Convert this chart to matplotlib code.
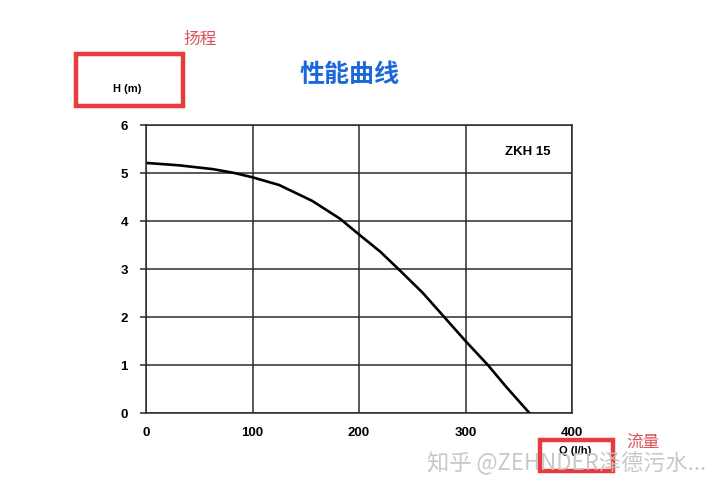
import matplotlib
matplotlib.use("Agg")
import matplotlib.pyplot as plt
from matplotlib.patches import Rectangle

plt.rcParams['font.family'] = ['Liberation Sans', 'Noto Sans CJK SC', 'DejaVu Sans']

# pump curve
flow = [0, 31, 63, 83, 100, 125, 156, 182, 200, 220, 237, 260, 280, 300, 321, 338, 360]
head = [5.21, 5.16, 5.08, 5.0, 4.91, 4.75, 4.42, 4.05, 3.72, 3.36, 3.0, 2.5, 2.0, 1.5, 1.0, 0.55, 0.0]

x_ticks = [0, 100, 200, 300, 400]
y_ticks = [0, 1, 2, 3, 4, 5, 6]

title = "性能曲线"
model = "ZKH 15"
x_label = "Q (l/h)"
y_label = "H (m)"
x_note = "流量"
y_note = "扬程"
watermark = "知乎 @ZEHNDER泽德污水..."

fig = plt.figure(figsize=(7.2, 4.92), dpi=100)
ax = fig.add_axes([146/720, 1-413/492, 426/720, 288/492])

grid_col = '#2b2b2b'
ax.plot(flow, head, color='black', linewidth=1.9, solid_joinstyle='round')
ax.set_xlim(0, 400)
ax.set_ylim(0, 6)
ax.set_xticks(x_ticks)
ax.set_yticks(y_ticks)
ax.grid(True, color=grid_col, linewidth=1.1)
for s in ax.spines.values():
    s.set_color(grid_col)
    s.set_linewidth(1.1)
ax.tick_params(axis='y', length=4, width=1.1, color=grid_col, pad=9, labelsize=9.5)
ax.tick_params(axis='x', length=0, pad=10, labelsize=9.5)
for lab in ax.get_xticklabels() + ax.get_yticklabels():
    lab.set_fontweight('bold')

ax.text(0.95, 0.905, model, transform=ax.transAxes, ha='right', va='center',
        fontsize=9.5, fontweight='bold')

def px(x, y):
    return x/720, 1-y/492

# title and labels
fig.text(*px(350, 75), title, ha='center', va='center', fontsize=18,
         fontweight='bold', color='#1c68d8', family=['Noto Sans CJK SC', 'DejaVu Sans'])
fig.text(*px(127, 89), y_label, ha='center', va='center', fontsize=8, fontweight='bold')
fig.text(*px(575, 451), x_label, ha='center', va='center', fontsize=8, fontweight='bold')

red = '#e63b3f'
fig.add_artist(Rectangle(px(76, 106), 107/720, 52/492, transform=fig.transFigure,
                         fill=False, edgecolor=red, linewidth=3.2))
fig.add_artist(Rectangle(px(540, 471), 73/720, 31/492, transform=fig.transFigure,
                         fill=False, edgecolor=red, linewidth=3.2))

fig.text(*px(200, 39), y_note, ha='center', va='center', fontsize=12,
         color='#d9535a', family=['Noto Sans CJK SC', 'DejaVu Sans'])
fig.text(*px(643, 442), x_note, ha='center', va='center', fontsize=12,
         color='#d9535a', family=['Noto Sans CJK SC', 'DejaVu Sans'])

fig.text(*px(706, 463), watermark, ha='right', va='center', fontsize=16,
         color='#c2c2c2', alpha=0.9, family=['Noto Sans CJK SC', 'DejaVu Sans'])

fig.savefig('out.png', dpi=100, facecolor='white')
